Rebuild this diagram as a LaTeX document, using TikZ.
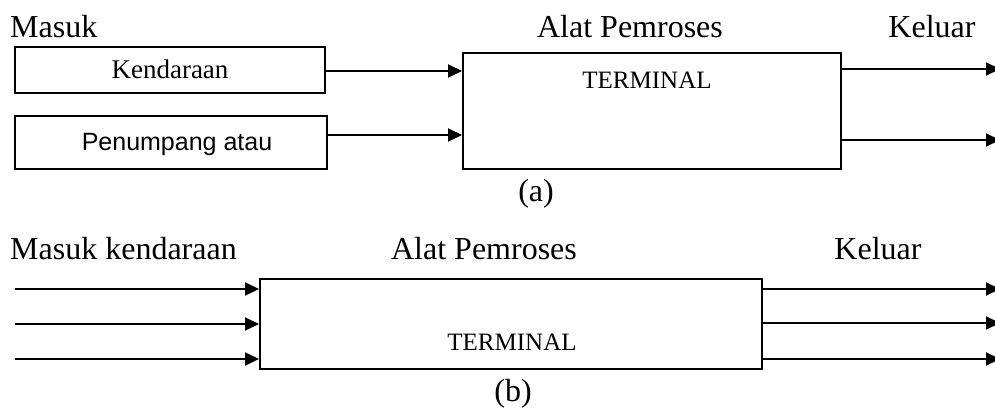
\documentclass[tikz,border=0pt]{standalone}
\usepackage{fontspec}
\setmainfont{Liberation Serif}
\newfontfamily\sansf{Liberation Sans}
\usetikzlibrary{arrows.meta,calc}
\begin{document}
\begin{tikzpicture}[x=1pt,y=-1pt,
  box/.style={draw,line width=1.8pt,inner sep=0pt,anchor=north west},
  lbl/.style={anchor=base,inner sep=0pt,font=\fontsize{32}{36}\selectfont},
  txt/.style={anchor=base,inner sep=0pt,font=\fontsize{25}{28}\selectfont},
  arr/.style={line width=2pt,-{Triangle[length=14pt,width=13pt]}}]
\useasboundingbox (0,0) rectangle (995,409);
% ---------- (a) ----------
\node[lbl,anchor=base west] (masuk) at (10,38) {Masuk};
\node[lbl] (alat1) at (630,38) {Alat Pemroses};
\node[lbl] (kel1) at (932,38) {Keluar};
\node[box,minimum width=310pt,minimum height=46pt] (kend) at (14,46) {};
\node[txt,font=\fontsize{27}{28}\selectfont] (kendt) at (170,79) {Kendaraan};
\node[box,minimum width=312pt,minimum height=53pt] (pen) at (14,115) {};
\node[txt,font=\sansf\fontsize{25}{26}\selectfont] (pent) at (177,150) {Penumpang atau};
\node[box,minimum width=378pt,minimum height=116pt] (term) at (462,52) {};
\node[txt] (termt) at (647,89) {TERMINAL};
\coordinate (i1) at (324,71);
\coordinate (i2) at (326,135);
\draw[arr] (i1) -- (i1 -| term.west);
\draw[arr] (i2) -- (i2 -| term.west);
\coordinate (o1) at (1000,69);
\coordinate (o2) at (1000,140);
\draw[arr] (o1 -| term.east) -- (o1);
\draw[arr] (o2 -| term.east) -- (o2);
\node[lbl] (capa) at (536,201) {(a)};
% ---------- (b) ----------
\node[lbl,anchor=base west] (masuk2) at (10,259) {Masuk kendaraan};
\node[lbl] (alat2) at (484,259) {Alat Pemroses};
\node[lbl] (kel2) at (878,259) {Keluar};
\node[box,minimum width=502pt,minimum height=90pt] (term2) at (259,278) {};
\node[txt] (term2t) at (512,350) {TERMINAL};
\coordinate (a1) at (15,289);
\coordinate (a2) at (15,324);
\coordinate (a3) at (15,359);
\draw[arr] (a1) -- (a1 -| term2.west);
\draw[arr] (a2) -- (a2 -| term2.west);
\draw[arr] (a3) -- (a3 -| term2.west);
\coordinate (b1) at (1000,289);
\coordinate (b2) at (1000,323);
\coordinate (b3) at (1000,359);
\draw[arr] (b1 -| term2.east) -- (b1);
\draw[arr] (b2 -| term2.east) -- (b2);
\draw[arr] (b3 -| term2.east) -- (b3);
\node[lbl] (capb) at (513,401) {(b)};
\end{tikzpicture}
\end{document}
